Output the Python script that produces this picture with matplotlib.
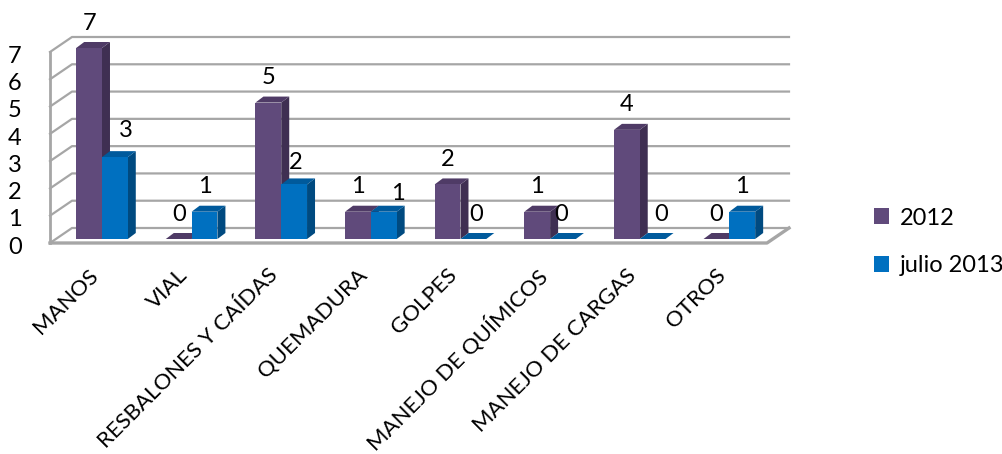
import matplotlib
matplotlib.use("Agg")
import matplotlib.pyplot as plt
from matplotlib.patches import Polygon, Patch

plt.rcParams['font.family'] = ['Lato', 'DejaVu Sans']

categories = ["MANOS", "VIAL", "RESBALONES Y CAÍDAS", "QUEMADURA", "GOLPES",
              "MANEJO DE QUÍMICOS", "MANEJO DE CARGAS", "OTROS"]
values_2012 = [7, 0, 5, 1, 2, 1, 4, 0]
values_2013 = [3, 1, 2, 1, 0, 0, 0, 1]
y_ticks = [0, 1, 2, 3, 4, 5, 6, 7]

W, H = 1003, 454
LEFT, RIGHT, BOTTOM, TOP = 50, 767, 243, 52

# depth of the floor and of the bars, in data units
px_x = (RIGHT - LEFT) / 8
px_y = (BOTTOM - TOP) / 7
wall_dx, wall_dy = 22 / px_x, 15 / px_y
bar_dx, bar_dy = 8 / px_x, 6 / px_y
base = 4 / px_y
bar_w = 25.8 / px_x
center = 0.58

fig = plt.figure(figsize=(W / 100, H / 100), dpi=100)
ax = fig.add_axes([LEFT / W, 1 - BOTTOM / H, (RIGHT - LEFT) / W, (BOTTOM - TOP) / H])
ax.set_xlim(0, 8)
ax.set_ylim(0, 7)
ax.axis("off")

grid = "#a6a6a6"
for t in y_ticks:
    # side wall and back wall lines
    ax.plot([0, wall_dx, 8 + wall_dx], [t, t + wall_dy, t + wall_dy],
            color=grid, lw=1.6, clip_on=False, zorder=1)
ax.plot([0, 0], [0, 7], color=grid, lw=2, clip_on=False, zorder=1)
ax.plot([0, 8, 8 + wall_dx], [0, 0, wall_dy], color=grid, lw=2.4, clip_on=False, zorder=1)


def bar3d(x, v, front, top, side):
    y0 = base
    y1 = base + v
    ax.add_patch(Polygon([(x + bar_w, y0), (x + bar_w + bar_dx, y0 + bar_dy),
                          (x + bar_w + bar_dx, y1 + bar_dy), (x + bar_w, y1)],
                         fc=side, ec="none", clip_on=False, zorder=3))
    ax.add_patch(Polygon([(x, y1), (x + bar_dx, y1 + bar_dy),
                          (x + bar_w + bar_dx, y1 + bar_dy), (x + bar_w, y1)],
                         fc=top, ec="none", clip_on=False, zorder=3))
    if v > 0:
        ax.add_patch(Polygon([(x, y0), (x + bar_w, y0), (x + bar_w, y1), (x, y1)],
                             fc=front, ec="none", clip_on=False, zorder=4))


# label nudges in pixels where the picture moved them off the bar
nudge_2012 = {}
nudge_2013 = {0: (11, 2), 2: (2, -3), 3: (14, -7), 4: (3, 0), 5: (-2, 0), 6: (8, 0)}

for i in range(len(categories)):
    x1 = i + center - bar_w
    x2 = i + center
    bar3d(x1, values_2012[i], "#604a7b", "#4f3b66", "#3f2f52")
    bar3d(x2, values_2013[i], "#0070c0", "#005a9c", "#004a80")

    nx, ny = nudge_2012.get(i, (0, 0))
    ax.annotate(str(values_2012[i]), (x1 + bar_w / 2, base + values_2012[i]),
                xytext=(nx * 0.72, (25 + ny) * 0.72), textcoords="offset points",
                ha="center", va="center", fontsize=17, color="black", annotation_clip=False)
    nx, ny = nudge_2013.get(i, (0, 0))
    ax.annotate(str(values_2013[i]), (x2 + bar_w / 2, base + values_2013[i]),
                xytext=(nx * 0.72, (25 + ny) * 0.72), textcoords="offset points",
                ha="center", va="center", fontsize=17, color="black", annotation_clip=False)

    ax.annotate(categories[i], (i + center, 0), xytext=(-10, -16), textcoords="offset points",
                rotation=45, rotation_mode="anchor", ha="right", va="top",
                fontsize=16, color="black", annotation_clip=False)

for t in y_ticks:
    ax.annotate(str(t), (0, t), xytext=(-35 * 0.72, -3), textcoords="offset points",
                ha="center", va="center", fontsize=17, color="black", annotation_clip=False)

handles = [Patch(fc="#604a7b", label="2012"), Patch(fc="#0070c0", label="julio 2013")]
fig.legend(handles=handles, loc="center left", bbox_to_anchor=(874 / W, 1 - 242 / H),
           frameon=False, fontsize=17, handlelength=0.65, handleheight=0.65,
           handletextpad=0.45, labelspacing=1.13, borderpad=0, borderaxespad=0)

fig.savefig("out.png", dpi=100)
